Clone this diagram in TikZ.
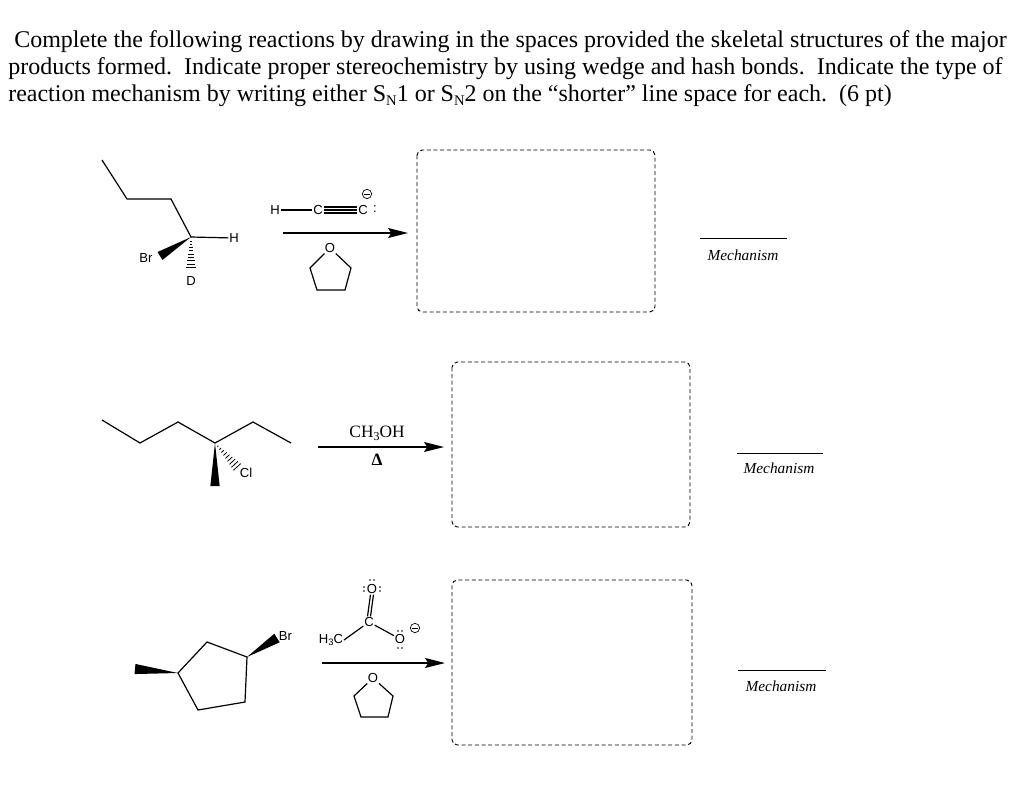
\documentclass[tikz,border=0pt]{standalone}
\usepackage{fontspec}
\setmainfont{Liberation Serif}
\setsansfont{Liberation Sans}
\usetikzlibrary{calc,arrows.meta}
\begin{document}
\begin{tikzpicture}[x=0.75pt,y=-0.75pt,
  bond/.style={line width=0.9pt},
  lab/.style={font=\sffamily\fontsize{9.8}{10}\selectfont,inner sep=0.5pt},
  rarrow/.style={line width=1pt,-{Stealth[length=15pt,width=7.5pt,inset=2.5pt]}},
  box/.style={dashed,line width=0.7pt,rounded corners=4pt,dash pattern=on 3pt off 2pt},
  mech/.style={font=\itshape\fontsize{11.5}{11.5}\selectfont},
  head/.style={font=\fontsize{18}{18}\selectfont,anchor=base west,inner sep=0}]
\useasboundingbox (0,0) rectangle (1024,797);
\newcommand{\wdg}[3]{\fill (#1) -- ($(#2)!#3!90:(#1)$) -- ($(#2)!#3!-90:(#1)$) -- cycle;}
\newcommand{\hsh}[3]{\foreach \t in {0.12,0.22,...,1.0}{\path coordinate (hp) at ($(#1)!\t!(#2)$);
  \draw[line width=0.6pt] ($(hp)!{\t*#3}!90:(#2)$) -- ($(hp)!{\t*#3}!-90:(#2)$);}}
\newcommand{\mns}[1]{\draw[line width=0.5pt] (#1) circle (3.5pt); \draw[line width=0.7pt] ($(#1)+(-2.8,0)$) -- ($(#1)+(2.8,0)$);}
% header
\node[head] (h1) at (14,47) {Complete the following reactions by drawing in the spaces provided the skeletal structures of the major};
\node[head] (h2) at (8,74) {products formed.\ \ Indicate proper stereochemistry by using wedge and hash bonds.\ \ Indicate the type of};
\node[head] (h3) at (8,101) {reaction mechanism by writing either S\raisebox{-3.5pt}{\fontsize{11}{11}\selectfont N}1 or S\raisebox{-3.5pt}{\fontsize{11}{11}\selectfont N}2 on the “shorter” line space for each.\ \ (6 pt)};
% ---- reaction 1
\coordinate (a1) at (102,160); \coordinate (a2) at (127,199); \coordinate (a3) at (171,199); \coordinate (c1) at (191,237);
\node[lab] (H1) at (234,238) {H};
\node[lab] (Br1) at (146,258) {Br};
\node[lab] (D1) at (191,281) {D};
\draw[bond] (a1) -- (a2) -- (a3) -- (c1) -- (H1);
\coordinate (bw1) at (160,256);
\wdg{c1}{bw1}{3.5pt}
\coordinate (dh1) at (191,270);
\hsh{c1}{dh1}{4pt}
\node[lab] (Hr) at (275,210) {H};
\node[lab] (Ca) at (318,210) {C};
\node[lab] (Cb) at (363,210) {C};
\node[lab] (col1) at (375,209) {:};
\mns{367,194}
\draw[bond] (Hr) -- (Ca);
\draw[bond] (Ca.east) -- (Cb.west);
\draw[bond] ($(Ca.east)+(0,-3)$) -- ($(Cb.west)+(0,-3)$);
\draw[bond] ($(Ca.east)+(0,3)$) -- ($(Cb.west)+(0,3)$);
\coordinate (r1s) at (283,233); \coordinate (r1e) at (408,233);
\draw[rarrow] (r1s) -- (r1e);
\node[lab] (O1) at (330,248) {O};
\coordinate (t1a) at (310,268); \coordinate (t1b) at (317,290); \coordinate (t1c) at (345,290); \coordinate (t1d) at (351,268);
\draw[bond] (O1) -- (t1a) -- (t1b) -- (t1c) -- (t1d) -- (O1);
\draw[box] (417,150) rectangle (655,312);
\coordinate (m1a) at (700,238); \coordinate (m1b) at (787,238);
\draw[line width=0.6pt] (m1a) -- (m1b);
\node[mech] (M1) at (743,255) {Mechanism};
% ---- reaction 2
\coordinate (b1) at (102,420); \coordinate (b2) at (140,443); \coordinate (b3) at (178,422); \coordinate (c2) at (215,443);
\coordinate (b5) at (253,422); \coordinate (b6) at (291,443);
\draw[bond] (b1) -- (b2) -- (b3) -- (c2) -- (b5) -- (b6);
\coordinate (bw2) at (215,486);
\wdg{c2}{bw2}{3.5pt}
\coordinate (ch2) at (239,469);
\hsh{c2}{ch2}{4pt}
\node[lab,anchor=west] (Cl2) at (239,473) {Cl};
\coordinate (r2s) at (318,447); \coordinate (r2e) at (444,447);
\draw[rarrow] (r2s) -- (r2e);
\node[font=\fontsize{13}{13}\selectfont] (R2a) at (377,433) {CH\raisebox{-2.5pt}{\fontsize{9}{9}\selectfont 3}OH};
\node[font=\bfseries\fontsize{13}{13}\selectfont] (R2b) at (377,460) {Δ};
\draw[box] (452,362) rectangle (690,527);
\coordinate (m2a) at (737,453); \coordinate (m2b) at (823,453);
\draw[line width=0.6pt] (m2a) -- (m2b);
\node[mech] (M2) at (779,468) {Mechanism};
% ---- reaction 3
\coordinate (p1) at (207,642); \coordinate (p2) at (247,657); \coordinate (p3) at (245,702); \coordinate (p4) at (198,710); \coordinate (p5) at (178,673);
\draw[bond] (p1) -- (p2) -- (p3) -- (p4) -- (p5) -- cycle;
\coordinate (me3) at (135,669);
\wdg{p5}{me3}{3.8pt}
\coordinate (bw3) at (277,638);
\wdg{p2}{bw3}{3.8pt}
\node[lab,anchor=west] (Br3) at (278,636) {Br};
\node[lab] (H3C) at (331,640) {H\raisebox{-2pt}{\fontsize{7}{7}\selectfont 3}C};
\node[lab] (C3) at (369,622) {C};
\node[lab] (O3a) at (372,589) {O};
\node[lab] (O3b) at (400,639) {O};
\draw[bond] (H3C.east) -- (C3);
\draw[bond] (C3) -- (O3b);
\draw[bond] ($(C3.north)+(-1.5,0)$) -- ($(O3a.south)+(-1.5,0)$);
\draw[bond] ($(C3.north)+(1.5,0)$) -- ($(O3a.south)+(1.5,0)$);
\foreach \p in {(364,587),(364,591),(380,587),(380,591),(370,580),(374,580),(398,631),(402,631),(398,648),(402,648)}
  \fill \p circle (0.6pt);
\mns{415,628}
\coordinate (r3s) at (322,663); \coordinate (r3e) at (445,663);
\draw[rarrow] (r3s) -- (r3e);
\node[lab] (O4) at (373,678) {O};
\coordinate (t3a) at (354,696); \coordinate (t3b) at (361,717); \coordinate (t3c) at (388,717); \coordinate (t3d) at (393,696);
\draw[bond] (O4) -- (t3a) -- (t3b) -- (t3c) -- (t3d) -- (O4);
\draw[box] (452,580) rectangle (692,745);
\coordinate (m3a) at (738,670); \coordinate (m3b) at (826,670);
\draw[line width=0.6pt] (m3a) -- (m3b);
\node[mech] (M3) at (781,686) {Mechanism};
\end{tikzpicture}
\end{document}
